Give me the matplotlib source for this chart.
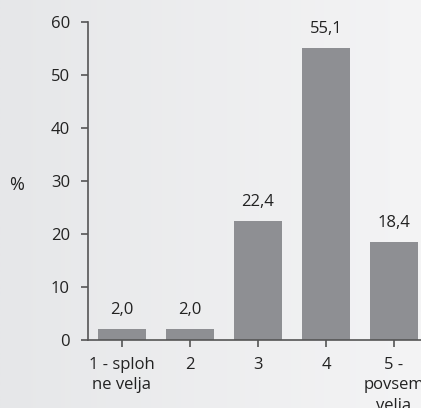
import numpy as np
import matplotlib.pyplot as plt

plt.rcParams['font.family'] = ['Open Sans', 'DejaVu Sans']

# Survey answers and share of respondents (%)
categories = ["1 - sploh\nne velja", "2", "3", "4", "5 -\npovsem\nvelja"]
shares = [2.0, 2.0, 22.4, 55.1, 18.4]
value_labels = ["2,0", "2,0", "22,4", "55,1", "18,4"]

W, H = 421, 408
fig = plt.figure(figsize=(W / 100, H / 100), dpi=100)

# soft left-to-right grey backdrop
bg = fig.add_axes([0, 0, 1, 1], zorder=-10)
grad = np.linspace(0, 1, 256).reshape(1, -1)
bg.imshow(grad, aspect="auto", extent=[0, 1, 0, 1],
          cmap=plt.matplotlib.colors.LinearSegmentedColormap.from_list(
              "bg", ["#e6e7e9", "#f4f4f5"]))
bg.axis("off")

ax = fig.add_axes([88 / W, 68 / H, 340 / W, 318 / H])
ax.patch.set_alpha(0)

x = np.arange(len(categories))
bars = ax.bar(x, shares, width=0.72, color="#8e8f93", zorder=2)

for xi, v, lab in zip(x, shares, value_labels):
    ax.text(xi, v + 3.6, lab, ha="center", va="center",
            fontsize=12, color="#222222")

ax.set_xlim(-0.5, 4.5)
ax.set_ylim(0, 60)
ax.set_yticks(range(0, 61, 10))
ax.set_xticks(x)
ax.set_xticklabels(categories, fontsize=12, color="#222222", linespacing=1.4)
ax.tick_params(axis="y", labelsize=12, labelcolor="#222222",
               length=5, width=1.2, color="#555555", pad=8)
ax.tick_params(axis="x", length=5, width=1.2, color="#555555", pad=7)

for side in ("top", "right"):
    ax.spines[side].set_visible(False)
for side in ("left", "bottom"):
    ax.spines[side].set_color("#555555")
    ax.spines[side].set_linewidth(1.2)

fig.text(17 / W, 1 - 185 / H, "%", ha="center", va="center",
         fontsize=13, color="#222222")

fig.savefig("out.png", dpi=100)
